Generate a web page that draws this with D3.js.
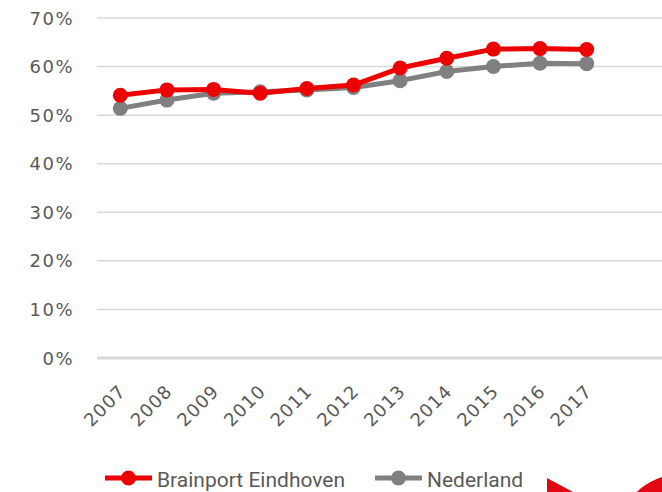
<!DOCTYPE html>
<html>
<head>
<meta charset="utf-8">
<script src="https://cdn.jsdelivr.net/npm/d3@7"></script>
<style>
  html, body { margin: 0; padding: 0; background: #fff; }
  svg text { font-family: Roboto, "Liberation Sans", sans-serif; fill: #595959; }
  svg text.tick { font-family: "DejaVu Sans", sans-serif; }
</style>
</head>
<body>
<svg id="chart" width="662" height="492"></svg>
<script>
const years = ['2007', '2008', '2009', '2010', '2011', '2012', '2013', '2014', '2015', '2016', '2017']
const brainport = [0.541, 0.552, 0.553, 0.545, 0.555, 0.562, 0.597, 0.617, 0.636, 0.637, 0.635]
const nederland = [0.514, 0.531, 0.545, 0.548, 0.552, 0.557, 0.571, 0.590, 0.600, 0.607, 0.606]
const yTicks = [0, 0.1, 0.2, 0.3, 0.4, 0.5, 0.6, 0.7]
const series = [
  { name: 'Brainport Eindhoven', values: brainport, color: '#ec0000' },
  { name: 'Nederland', values: nederland, color: '#808080' }
]

const svg = d3.select('#chart')

/* scales */
const x = d3.scaleBand().domain(years).range([97, 610])
const y = d3.scaleLinear().domain([0, 0.7]).range([358, 18])
const cx = d => x(d) + x.bandwidth() / 2

/* decorative shapes at the bottom right (logo fragments) */
svg.append('path')
  .attr('d', 'M547,478 L573,492 L547,492 Z')
  .attr('fill', '#e30613')
svg.append('circle')
  .attr('cx', 682).attr('cy', 540).attr('r', 66)
  .attr('fill', '#e30613')

/* gridlines */
svg.append('g')
  .selectAll('line')
  .data(yTicks)
  .enter().append('line')
  .attr('x1', 97).attr('x2', 662)
  .attr('y1', d => y(d)).attr('y2', d => y(d))
  .attr('stroke', '#d9d9d9')
  .attr('stroke-width', d => d === 0 ? 3 : 1.5)

/* y axis labels */
svg.append('g')
  .selectAll('text')
  .data(yTicks)
  .enter().append('text')
  .attr('class', 'tick')
  .attr('x', 74)
  .attr('y', d => y(d) + 6.5)
  .attr('text-anchor', 'end')
  .attr('font-size', 18)
  .attr('letter-spacing', 1.5)
  .text(d => d3.format('.0%')(d))

/* x axis labels */
svg.append('g')
  .selectAll('text')
  .data(years)
  .enter().append('text')
  .attr('class', 'tick')
  .attr('transform', d => `translate(${cx(d) + 2},${388}) rotate(-45)`)
  .attr('text-anchor', 'end')
  .attr('dy', '0.35em')
  .attr('font-size', 18)
  .attr('letter-spacing', 1)
  .text(d => d)

/* lines and markers */
const line = d3.line()
  .x((d, i) => cx(years[i]))
  .y(d => y(d))

const lines = svg.append('g')
series.slice().reverse().forEach(s => {
  const g = lines.append('g')
  g.append('path')
    .datum(s.values)
    .attr('d', line)
    .attr('fill', 'none')
    .attr('stroke', s.color)
    .attr('stroke-width', 5)
    .attr('stroke-linejoin', 'round')
  g.selectAll('circle')
    .data(s.values)
    .enter().append('circle')
    .attr('cx', (d, i) => cx(years[i]))
    .attr('cy', d => y(d))
    .attr('r', 7.5)
    .attr('fill', s.color)
})

/* legend */
const legendX = [105, 375]
const legend = svg.append('g')
series.forEach((s, i) => {
  const g = legend.append('g').attr('transform', `translate(${legendX[i]},478)`)
  g.append('line')
    .attr('x1', 0).attr('x2', 47)
    .attr('stroke', s.color).attr('stroke-width', 5)
  g.append('circle')
    .attr('cx', 23.5).attr('r', 7.5)
    .attr('fill', s.color)
  g.append('text')
    .attr('x', 52).attr('y', 9)
    .attr('font-size', 21)
    .text(s.name)
})
</script>
</body>
</html>
